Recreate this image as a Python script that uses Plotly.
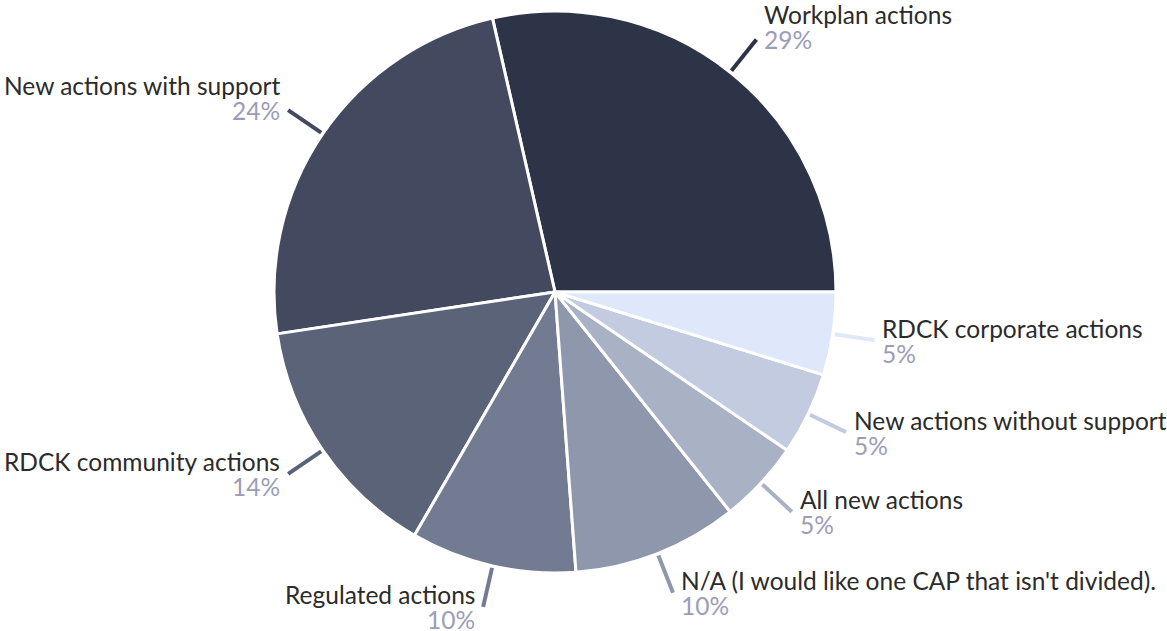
import math
import plotly.graph_objects as go

# Responses per category (counts)
labels = [
    "Workplan actions",
    "New actions with support",
    "RDCK community actions",
    "Regulated actions",
    "N/A (I would like one CAP that isn't divided).",
    "All new actions",
    "New actions without support",
    "RDCK corporate actions",
]
counts = [12, 10, 6, 4, 4, 2, 2, 2]
colors = [
    "#2e3447", "#434a5f", "#5a6378", "#727b91",
    "#8e97ac", "#a9b1c5", "#c2cbe0", "#dfe8fb",
]

W, H = 1167, 631
CX, CY, R = 555, 292, 281   # pie centre and radius in pixels
FONT = "Lato"
LABEL_COLOR = "#2b2b2b"
PCT_COLOR = "#9b9db8"
FS = 24.5

total = sum(counts)
# first slice starts at 3 o'clock and runs counterclockwise
first_span = 360 * counts[0] / total

fig = go.Figure(go.Pie(
    labels=labels,
    values=counts,
    sort=False,
    direction="counterclockwise",
    rotation=90 - first_span,
    marker=dict(colors=colors, line=dict(color="white", width=3)),
    textinfo="none",
    hoverinfo="label+percent",
    domain=dict(x=[(CX - R) / W, (CX + R) / W],
                y=[1 - (CY + R) / H, 1 - (CY - R) / H]),
))


def px(x):
    return x / W


def py(y):
    return 1 - y / H


shapes, annotations = [], []
cum = 0
for lab, v, col in zip(labels, counts, colors):
    mid = 2 * math.pi * (cum + v / 2) / total
    cum += v
    c, s = math.cos(mid), math.sin(mid)
    x0, y0 = CX + (R + 2) * c, CY - (R + 2) * s
    x1, y1 = CX + (R + 42) * c, CY - (R + 42) * s
    shapes.append(dict(type="line", xref="paper", yref="paper",
                       x0=px(x0), y0=py(y0), x1=px(x1), y1=py(y1),
                       line=dict(color=col, width=4)))
    right = c >= 0
    tx = x1 + 6 if right else x1 - 6
    anchor = "left" if right else "right"
    if s > 0:
        ly, pyy = y1 - 25, y1
    else:
        ly, pyy = y1 - 12, y1 + 13
    pct = f"{round(100 * v / total)}%"
    annotations.append(dict(x=px(tx), y=py(ly), xref="paper", yref="paper",
                            text=lab, showarrow=False, xanchor=anchor,
                            yanchor="middle",
                            font=dict(family=FONT, size=FS, color=LABEL_COLOR)))
    annotations.append(dict(x=px(tx), y=py(pyy), xref="paper", yref="paper",
                            text=pct, showarrow=False, xanchor=anchor,
                            yanchor="middle",
                            font=dict(family=FONT, size=FS, color=PCT_COLOR)))

fig.update_layout(
    width=W, height=H,
    margin=dict(l=0, r=0, t=0, b=0),
    paper_bgcolor="white",
    plot_bgcolor="white",
    showlegend=False,
    shapes=shapes,
    annotations=annotations,
)

fig.write_html("out.html")
